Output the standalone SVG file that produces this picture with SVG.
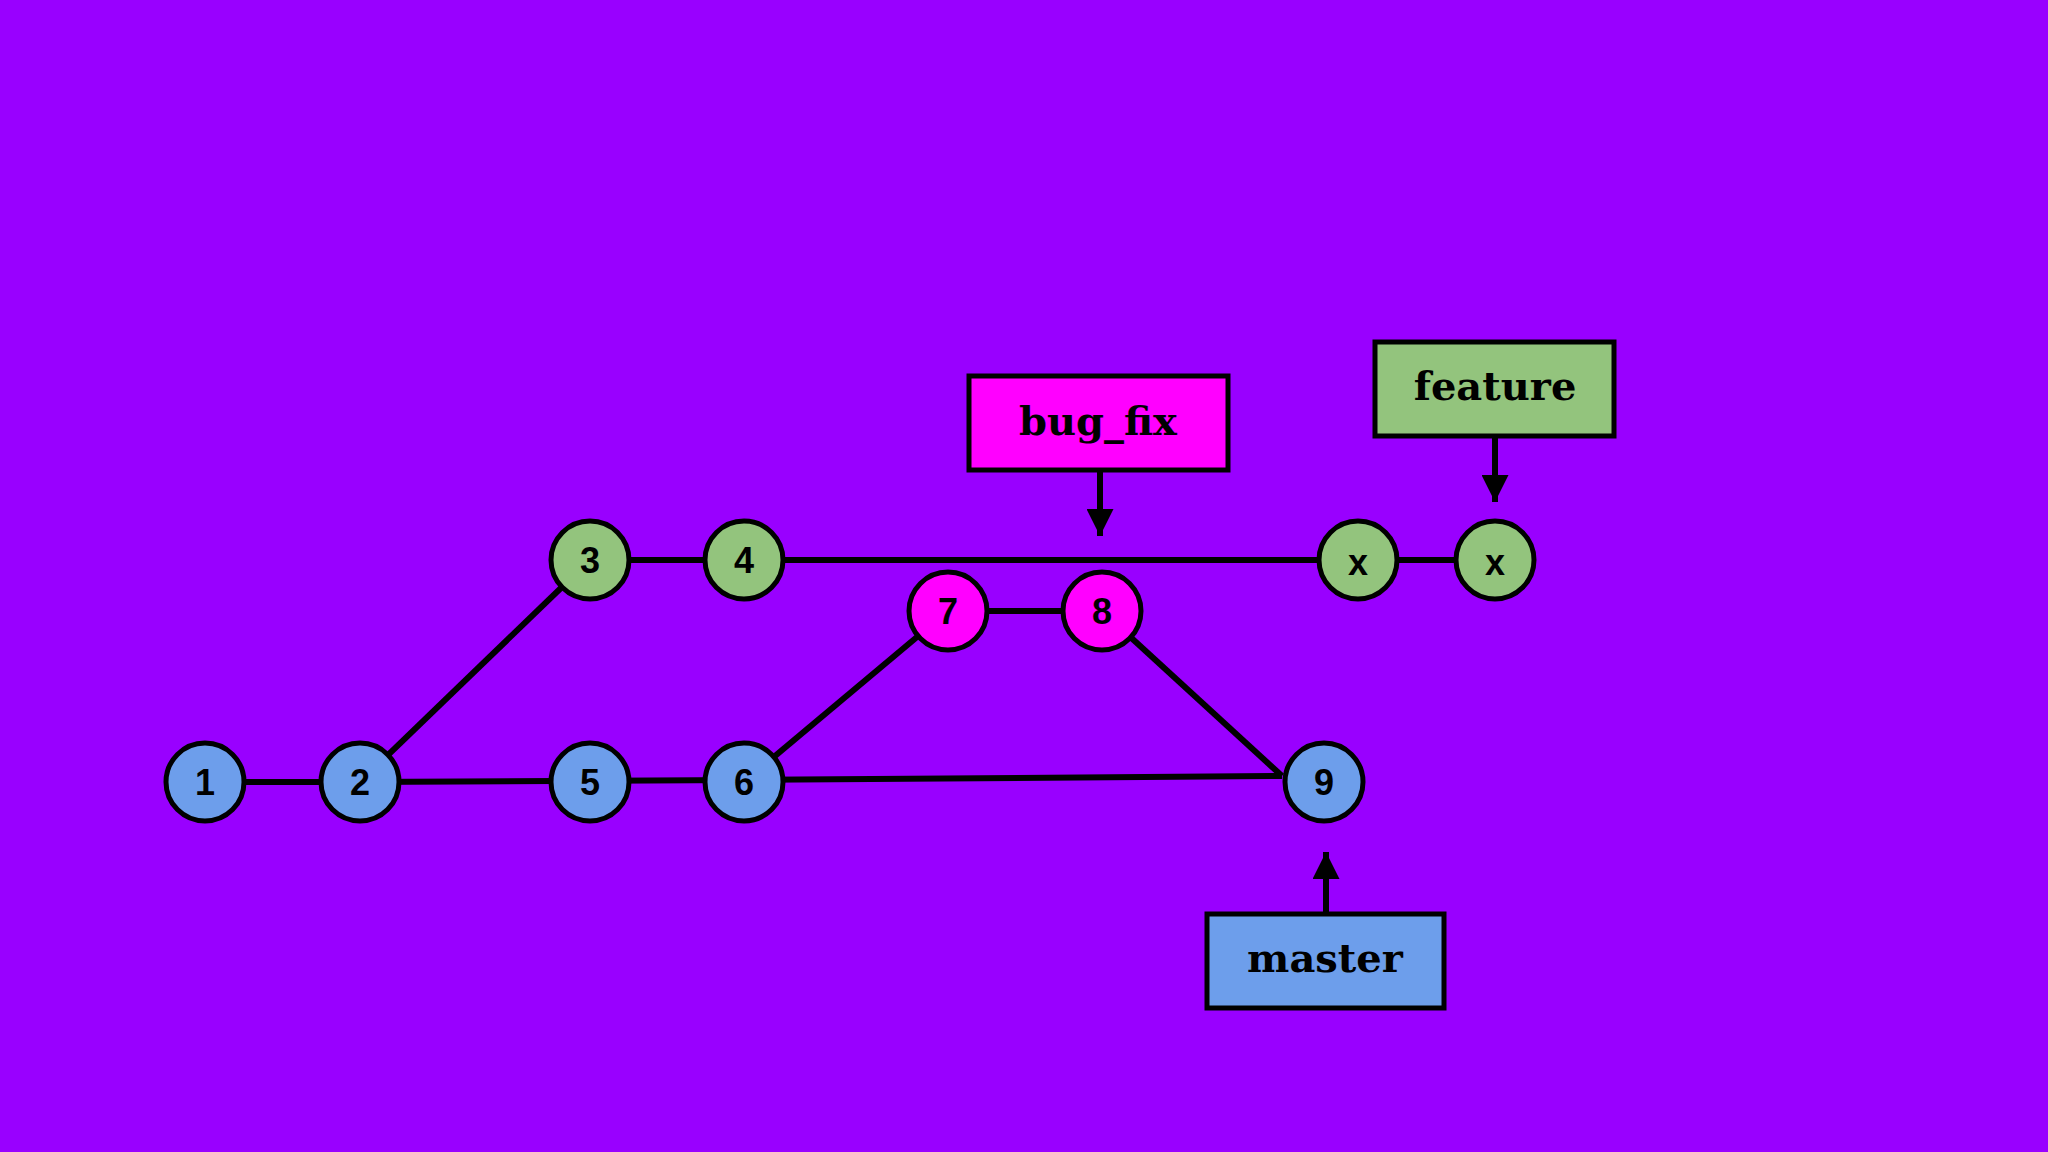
<svg xmlns="http://www.w3.org/2000/svg" width="2048" height="1152" viewBox="0 0 2048 1152">
<style>
.n{stroke:#000;stroke-width:5}
.g{fill:#93c47d}.b{fill:#6d9eeb}.m{fill:#ff00ff}
.t{font-family:"Liberation Sans",Arial,sans-serif;font-weight:bold;font-size:36px;text-anchor:middle;dominant-baseline:central;fill:#000}
.l{font-family:"DejaVu Serif",serif;font-weight:bold;font-size:40px;text-anchor:middle;dominant-baseline:central;fill:#000}
.c{stroke:#000;stroke-width:6;fill:none}
</style>
<defs><marker id="a" viewBox="0 0 10 10" refX="10" refY="5" markerWidth="4.5" markerHeight="4.5" orient="auto"><path d="M0,0L10,5L0,10z" fill="#000"/></marker></defs>
<rect width="2048" height="1152" fill="#9900ff"/>
<g id="connectors">
<line class="c" x1="205" y1="782" x2="360" y2="782"/>
<line class="c" x1="360" y1="782" x2="744" y2="780"/>
<line class="c" x1="744" y1="780" x2="1282" y2="776"/>
<line class="c" x1="360" y1="782" x2="590" y2="560"/>
<line class="c" x1="590" y1="560" x2="1495" y2="560"/>
<line class="c" x1="744" y1="782" x2="948" y2="611"/>
<line class="c" x1="948" y1="611" x2="1102" y2="611"/>
<line class="c" x1="1102" y1="611" x2="1282" y2="776"/>
<line class="c" x1="1100" y1="470" x2="1100" y2="536" marker-end="url(#a)"/>
<line class="c" x1="1495" y1="436" x2="1495" y2="502" marker-end="url(#a)"/>
<line class="c" x1="1326" y1="914" x2="1326" y2="852" marker-end="url(#a)"/>
</g>
<g id="n1"><circle class="n b" cx="205" cy="782" r="39"/><text class="t" x="205" y="782">1</text></g>
<g id="n2"><circle class="n b" cx="360" cy="782" r="39"/><text class="t" x="360" y="782">2</text></g>
<g id="n5"><circle class="n b" cx="590" cy="782" r="39"/><text class="t" x="590" y="782">5</text></g>
<g id="n6"><circle class="n b" cx="744" cy="782" r="39"/><text class="t" x="744" y="782">6</text></g>
<g id="n9"><circle class="n b" cx="1324" cy="782" r="39"/><text class="t" x="1324" y="782">9</text></g>
<g id="n3"><circle class="n g" cx="590" cy="560" r="39"/><text class="t" x="590" y="560">3</text></g>
<g id="n4"><circle class="n g" cx="744" cy="560" r="39"/><text class="t" x="744" y="560">4</text></g>
<g id="nx1"><circle class="n g" cx="1358" cy="560" r="39"/><text class="t" x="1358" y="562">x</text></g>
<g id="nx2"><circle class="n g" cx="1495" cy="560" r="39"/><text class="t" x="1495" y="562">x</text></g>
<g id="n7"><circle class="n m" cx="948" cy="611" r="39"/><text class="t" x="948" y="611">7</text></g>
<g id="n8"><circle class="n m" cx="1102" cy="611" r="39"/><text class="t" x="1102" y="611">8</text></g>
<g id="bug_fix"><rect class="n m" x="969" y="376" width="259" height="94"/><text class="l" x="1098" y="420">bug_fix</text></g>
<g id="feature"><rect class="n g" x="1375" y="342" width="239" height="94"/><text class="l" x="1495" y="385">feature</text></g>
<g id="master"><rect class="n b" x="1207" y="914" width="237" height="94"/><text class="l" x="1325" y="957">master</text></g>
</svg>
